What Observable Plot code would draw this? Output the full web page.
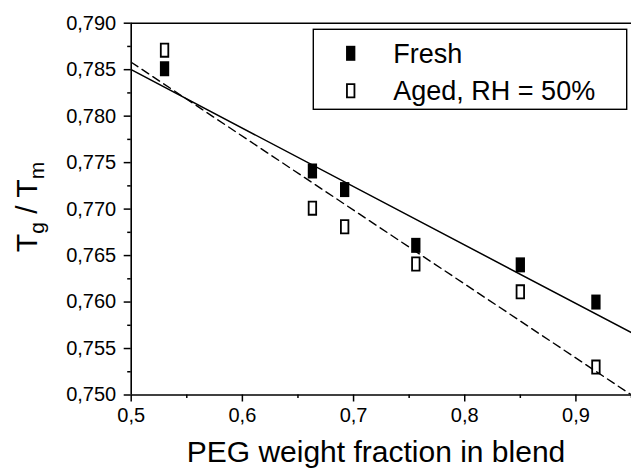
<!DOCTYPE html>
<html>
<head>
<meta charset="utf-8">
<script src="https://cdn.jsdelivr.net/npm/d3@7"></script>
<script src="https://cdn.jsdelivr.net/npm/@observablehq/plot@0.6"></script>
<style>
  html, body { margin: 0; padding: 0; background: #fff; }
  #chart svg { display: block; }
</style>
</head>
<body>
<div id="chart"></div>
<script>
// ---- data ----
const xDomain = [0.5, 0.95];
const yDomain = [0.750, 0.790];
const peg = [0.530, 0.663, 0.692, 0.756, 0.850, 0.918];
const fresh = [0.7851, 0.7741, 0.7721, 0.7661, 0.7640, 0.7600];
const aged = [0.7871, 0.7701, 0.7681, 0.7641, 0.7611, 0.7530];
const fitX = [0.5, 0.95];
const freshFit = [0.7850, 0.7567];
const agedFit = [0.7858, 0.7500];
const xTicks = [0.5, 0.6, 0.7, 0.8, 0.9];
const xMinor = [0.55, 0.65, 0.75, 0.85, 0.95];
const yTicks = [0.750, 0.755, 0.760, 0.765, 0.770, 0.775, 0.780, 0.785, 0.790];
const yMinor = [0.7525, 0.7575, 0.7625, 0.7675, 0.7725, 0.7775, 0.7825, 0.7875];
const seriesNames = ["Fresh", "Aged, RH = 50%"];
const xTitle = "PEG weight fraction in blend";

// ---- tables ----
const freshData = peg.map((x, i) => ({x, y: fresh[i]}));
const agedData = peg.map((x, i) => ({x, y: aged[i]}));
const freshLine = fitX.map((x, i) => ({x, y: freshFit[i]}));
const agedLine = fitX.map((x, i) => ({x, y: agedFit[i]}));

const W = 4.65, H = 7.5;
const filledRect = {draw(ctx) { ctx.moveTo(-W, -H); ctx.lineTo(W, -H); ctx.lineTo(W, H); ctx.lineTo(-W, H); ctx.closePath(); }};
const w2 = W - 0.9, h2 = H - 0.9;
const openRect = {draw(ctx) { ctx.moveTo(-w2, -h2); ctx.lineTo(w2, -h2); ctx.lineTo(w2, h2); ctx.lineTo(-w2, h2); ctx.closePath(); }};
const comma = f => v => d3.format(f)(v).replace(".", ",");
const FONT = "'Liberation Sans', Arial, sans-serif";

const plot = Plot.plot({
  width: 631,
  height: 471,
  marginLeft: 130.7,
  marginRight: 0,
  marginTop: 22.7,
  marginBottom: 76.5,
  style: {fontFamily: FONT, fontSize: "20px", color: "#000", background: "#fff"},
  x: {domain: xDomain},
  y: {domain: yDomain},
  marks: [
    Plot.axisY({ticks: yTicks, tickFormat: comma(".3f"), tickSize: 7, tickPadding: 8, fontSize: 20, label: null, strokeWidth: 1.5}),
    Plot.axisY({ticks: yMinor, tickFormat: () => "", tickSize: 3.5, label: null, strokeWidth: 1.5}),
    Plot.axisX({ticks: xTicks, tickFormat: comma(".1f"), tickSize: 7, tickPadding: 6, fontSize: 20, label: null, strokeWidth: 1.5}),
    Plot.axisX({ticks: xMinor, tickFormat: () => "", tickSize: 3.5, label: null, strokeWidth: 1.5}),
    Plot.ruleY([yDomain[0]], {stroke: "#000", strokeWidth: 1.6}),
    Plot.ruleY([yDomain[1]], {stroke: "#000", strokeWidth: 1.6, x1: xDomain[0], x2: xDomain[1]}),
    Plot.ruleX([xDomain[0]], {stroke: "#000", strokeWidth: 1.6}),
    Plot.dot(freshData, {x: "x", y: "y", symbol: filledRect, fill: "#000", stroke: "none", r: 5}),
    Plot.dot(agedData, {x: "x", y: "y", symbol: openRect, fill: "#fff", stroke: "#000", strokeWidth: 1.8, r: 5}),
    Plot.line(freshLine, {x: "x", y: "y", stroke: "#000", strokeWidth: 1.5, clip: true}),
    Plot.line(agedLine, {x: "x", y: "y", stroke: "#000", strokeWidth: 1.4, strokeDasharray: "8,5", clip: true})
  ]
});
document.getElementById("chart").appendChild(plot);

const svg = d3.select(plot);
// y-axis title with subscripts
const yt = svg.append("text")
  .attr("transform", "translate(37,207) rotate(-90)")
  .attr("text-anchor", "middle")
  .attr("font-family", FONT)
  .attr("font-size", 30)
  .attr("fill", "#000");
yt.append("tspan").text("T");
yt.append("tspan").attr("font-size", 21).attr("dy", 7).text("g");
yt.append("tspan").attr("dy", -7).text(" / T");
yt.append("tspan").attr("font-size", 21).attr("dy", 7).text("m");

// x-axis title
svg.append("text")
  .attr("x", 376).attr("y", 462)
  .attr("text-anchor", "middle")
  .attr("font-family", FONT)
  .attr("font-size", 30)
  .attr("fill", "#000")
  .text(xTitle);

// legend
const lg = svg.append("g").attr("text-anchor", "start");
lg.append("rect").attr("x", 313.3).attr("y", 29.3).attr("width", 313.4).attr("height", 80)
  .attr("fill", "#fff").attr("stroke", "#000").attr("stroke-width", 1.4);
lg.append("path").attr("transform", "translate(350.7,53.3)")
  .attr("d", d3.symbol(filledRect)()).attr("fill", "#000");
lg.append("path").attr("transform", "translate(350.7,90.7)")
  .attr("d", d3.symbol(openRect)()).attr("fill", "#fff").attr("stroke", "#000").attr("stroke-width", 1.8);
seriesNames.forEach((name, i) => {
  lg.append("text").attr("x", 393.3).attr("y", i === 0 ? 62.5 : 99.5)
    .attr("text-anchor", "start")
    .attr("font-family", FONT).attr("font-size", 27).attr("fill", "#000").text(name);
});
</script>
</body>
</html>
